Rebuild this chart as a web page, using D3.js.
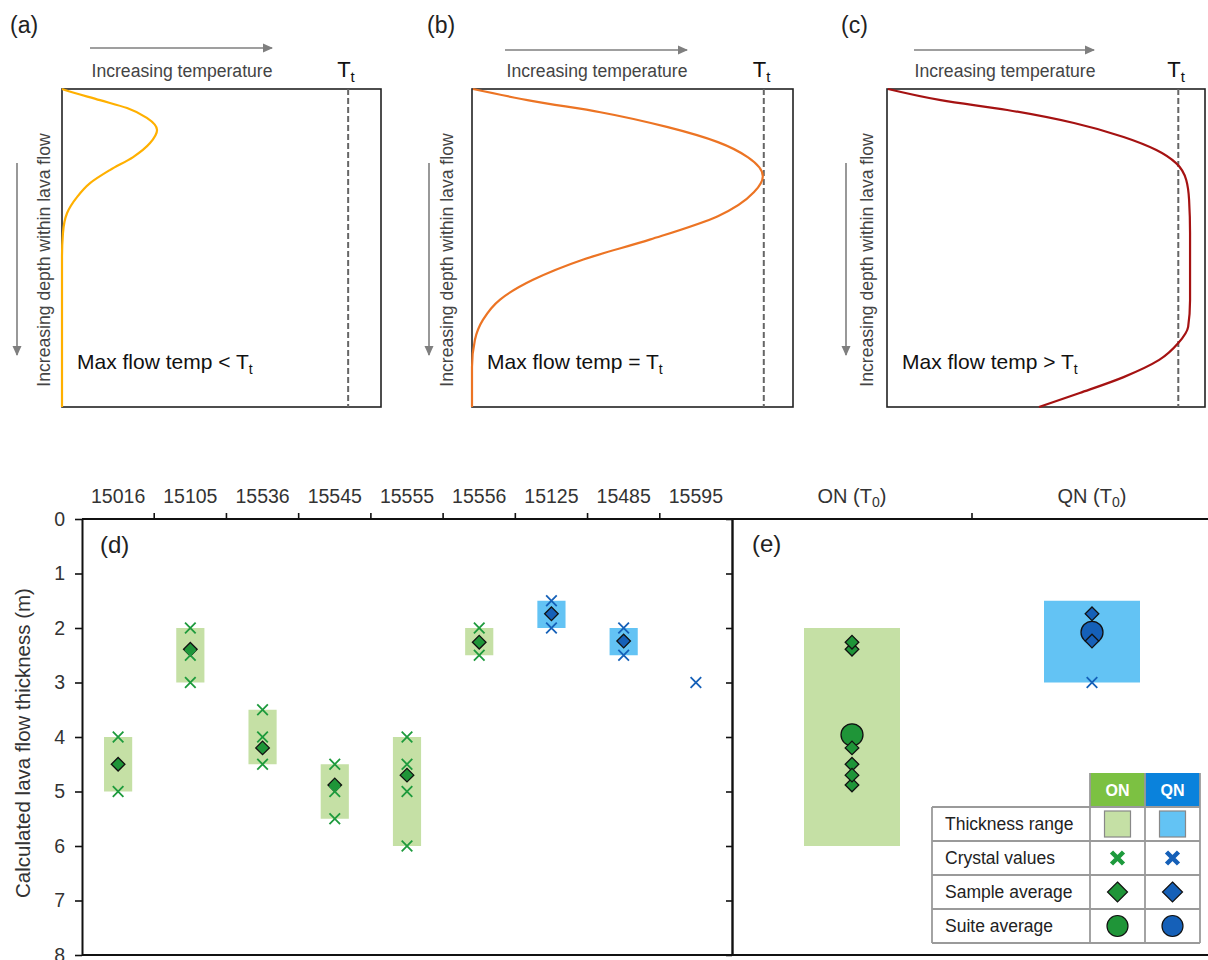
<!DOCTYPE html>
<html><head><meta charset="utf-8">
<script src="https://cdn.jsdelivr.net/npm/d3@7/dist/d3.min.js"></script>
<style>body{margin:0;background:#fff} svg{display:block;font-family:"Liberation Sans",Arial,sans-serif}</style>
</head><body><svg id="chart" width="1208" height="960"></svg>
<script>
// ---------- DATA ----------
// top panels: normalized temperature (0 = box left, 1 = box right) vs normalized depth (0 top, 1 bottom)
const panelLabels = ["(a)", "(b)", "(c)"];
const panelRelations = ["<", "=", ">"];
const curveA = [[0,0],[0.009,0.003],[0.119,0.035],[0.204,0.06],[0.266,0.091],[0.298,0.129],[0.276,0.17],[0.223,0.214],[0.15,0.255],[0.088,0.296],[0.047,0.34],[0.016,0.39],[0.003,0.453],[0,0.53],[0,1]];
const curveB = [[0.003,0],[0.19,0.038],[0.40,0.073],[0.61,0.12],[0.766,0.167],[0.86,0.215],[0.906,0.274],[0.878,0.325],[0.766,0.40],[0.556,0.473],[0.347,0.536],[0.19,0.60],[0.0875,0.662],[0.034,0.726],[0.009,0.789],[0,0.874],[0,1]];
const curveC = [[0.003,0],[0.169,0.035],[0.378,0.066],[0.588,0.107],[0.744,0.151],[0.847,0.192],[0.909,0.233],[0.941,0.286],[0.95,0.349],[0.953,0.453],[0.953,0.664],[0.947,0.748],[0.916,0.799],[0.856,0.852],[0.744,0.906],[0.606,0.956],[0.478,1]];
const tTransition = [0.897, 0.909, 0.916];

// panel d
const samples   = ["15016","15105","15536","15545","15555","15556","15125","15485","15595"];
const sampleSuite = ["ON","ON","ON","ON","ON","ON","QN","QN","QN"];
const rangeLow  = [4, 2, 3.5, 4.5, 4, 2, 1.5, 2, null];
const rangeHigh = [5, 3, 4.5, 5.5, 6, 2.5, 2, 2.5, null];
const crystalValues = [[4,5],[2,2.5,3],[3.5,4,4.5],[4.5,5,5.5],[4,4.5,5,6],[2,2.5],[1.5,2],[2,2.5],[3]];
const sampleAvg = [4.5, 2.39, 4.2, 4.88, 4.7, 2.26, 1.74, 2.24, null];
const yTicks = [0,1,2,3,4,5,6,7,8];

// panel e
const suites = ["ON","QN"];
const suiteRangeLow  = [2, 1.5];
const suiteRangeHigh = [6, 3];
const suiteAvg = [3.96, 2.08];
const suiteOutlierCrystals = [[], [3]];

const legendRows = ["Thickness range","Crystal values","Sample average","Suite average"];

// ---------- STYLE ----------
const col = {
  ON:  {range:"#c5e0a5", cross:"#1d9a3c", fill:"#1f9538", head:"#7cc142"},
  QN:  {range:"#63c3f4", cross:"#1560b8", fill:"#1560b8", head:"#0a82dc"}
};
const curveColors = ["#ffb000", "#ec7424", "#a51212"];
const FONT = "Liberation Sans, Arial, sans-serif";

const svg = d3.select("#chart");

// ---------- TOP PANELS ----------
const boxLeft = [62, 472, 887], boxWidth = [319, 321, 318];
const boxTop = 89, boxBottom = 407;
const curves = [curveA, curveB, curveC];
const defs = svg.append("defs");
defs.append("marker").attr("id","ah").attr("viewBox","0 0 10 10").attr("refX",9).attr("refY",5)
  .attr("markerWidth",11).attr("markerHeight",10).attr("markerUnits","userSpaceOnUse").attr("orient","auto")
  .append("path").attr("d","M0,0.5 L10,5 L0,9.5 Z").attr("fill","#7f7f7f");

const labelX = [10, 427, 841];
const arrowH = [[90,272,48],[505,687,50],[914,1094,50]];
const arrowV = [17, 429, 846];
const vLabelX = [50, 453, 873];

curves.forEach((cv, i) => {
  const L = boxLeft[i];
  const x = d3.scaleLinear([0,1],[L, L + boxWidth[i]]);
  const y = d3.scaleLinear([0,1],[boxTop, boxBottom]);
  const g = svg.append("g");
  g.append("text").attr("x", labelX[i]).attr("y", 33).attr("font-size",23).attr("fill","#222").text(panelLabels[i]);
  // horizontal arrow + label
  const ah = arrowH[i];
  g.append("line").attr("x1",ah[0]).attr("x2",ah[1]).attr("y1",ah[2]).attr("y2",ah[2])
    .attr("stroke","#7f7f7f").attr("stroke-width",1.6).attr("marker-end","url(#ah)");
  g.append("text").attr("x",(ah[0]+ah[1])/2 + 1).attr("y",77).attr("text-anchor","middle")
    .attr("font-size",17.6).attr("fill","#444").text("Increasing temperature");
  // vertical arrow + label
  g.append("line").attr("x1",arrowV[i]).attr("x2",arrowV[i]).attr("y1",163).attr("y2",355)
    .attr("stroke","#7f7f7f").attr("stroke-width",1.6).attr("marker-end","url(#ah)");
  g.append("text").attr("transform",`translate(${vLabelX[i]},260) rotate(-90)`).attr("text-anchor","middle")
    .attr("font-size",17.6).attr("fill","#444").text("Increasing depth within lava flow");
  // box
  g.append("rect").attr("x",x(0)).attr("y",boxTop).attr("width",boxWidth[i]).attr("height",boxBottom-boxTop)
    .attr("fill","none").attr("stroke","#222").attr("stroke-width",1.6);
  // Tt line
  const tx = x(tTransition[i]);
  g.append("line").attr("x1",tx).attr("x2",tx).attr("y1",boxTop).attr("y2",boxBottom)
    .attr("stroke","#666").attr("stroke-width",2).attr("stroke-dasharray","6,3");
  const tl = g.append("text").attr("x",tx - 11).attr("y",77).attr("font-size",22).attr("fill","#111");
  tl.append("tspan").text("T");
  tl.append("tspan").attr("font-size",15).attr("dy",5).text("t");
  // curve
  g.append("path").datum(cv)
    .attr("d", d3.line().x(d => x(d[0])).y(d => y(d[1])).curve(d3.curveMonotoneY))
    .attr("fill","none").attr("stroke",curveColors[i]).attr("stroke-width",2.2);
  // note
  const nt = g.append("text").attr("x", L + 15).attr("y",369).attr("font-size",21).attr("fill","#111");
  nt.append("tspan").text(`Max flow temp ${panelRelations[i]} T`);
  nt.append("tspan").attr("font-size",14).attr("dy",5).text("t");
});

// ---------- BOTTOM PANELS ----------
const yS = d3.scaleLinear([0,8],[519,955]);
const xD = d3.scaleBand(samples,[82,732]);
const xE = d3.scaleBand(suites,[732,1212]);

const bottom = svg.append("g");

// ranges d
const gD = bottom.append("g");
samples.forEach((s,i) => {
  if (rangeLow[i] == null) return;
  const w = xD.bandwidth()*0.39;
  gD.append("rect").attr("x", xD(s)+xD.bandwidth()/2 - w/2).attr("y", yS(rangeLow[i]))
    .attr("width", w).attr("height", yS(rangeHigh[i]) - yS(rangeLow[i]))
    .attr("fill", col[sampleSuite[i]].range);
});
// ranges e
suites.forEach((s,i) => {
  const w = xE.bandwidth()*0.40;
  gD.append("rect").attr("x", xE(s)+xE.bandwidth()/2 - w/2).attr("y", yS(suiteRangeLow[i]))
    .attr("width", w).attr("height", yS(suiteRangeHigh[i]) - yS(suiteRangeLow[i]))
    .attr("fill", col[s].range);
});

function crossPath(cx, cy, h){ return `M${cx-h},${cy-h}L${cx+h},${cy+h}M${cx-h},${cy+h}L${cx+h},${cy-h}`; }
function diamondPath(cx, cy, h){ return `M${cx},${cy-h}L${cx+h},${cy}L${cx},${cy+h}L${cx-h},${cy}Z`; }

// sample averages d
samples.forEach((s,i) => {
  if (sampleAvg[i] == null) return;
  const cx = xD(s)+xD.bandwidth()/2;
  gD.append("path").attr("d", diamondPath(cx, yS(sampleAvg[i]), 6.8))
    .attr("fill", col[sampleSuite[i]].fill).attr("stroke","#111").attr("stroke-width",1.3);
});
// crystal values d
samples.forEach((s,i) => {
  const cx = xD(s)+xD.bandwidth()/2;
  crystalValues[i].forEach(v => {
    gD.append("path").attr("d", crossPath(cx, yS(v), 5.3))
      .attr("fill","none").attr("stroke", col[sampleSuite[i]].cross).attr("stroke-width",1.8);
  });
});

// panel e
suites.forEach((s,i) => {
  const cx = xE(s)+xE.bandwidth()/2;
  suiteOutlierCrystals[i].forEach(v => {
    gD.append("path").attr("d", crossPath(cx, yS(v), 5.3))
      .attr("fill","none").attr("stroke", col[s].cross).attr("stroke-width",1.8);
  });
  gD.append("circle").attr("cx", cx).attr("cy", yS(suiteAvg[i])).attr("r", 11)
    .attr("fill", col[s].fill).attr("stroke","#111").attr("stroke-width",1.3);
  samples.forEach((smp,j) => {
    if (sampleSuite[j] !== s || sampleAvg[j] == null) return;
    gD.append("path").attr("d", diamondPath(cx, yS(sampleAvg[j]), 6.8))
      .attr("fill", col[s].fill).attr("stroke","#111").attr("stroke-width",1.3);
  });
});

// axes
const axL = bottom.append("g").attr("transform","translate(82,0)")
  .call(d3.axisLeft(yS).tickValues(yTicks).tickSize(7).tickSizeOuter(0).tickPadding(10).tickFormat(d3.format("d")));
axL.select(".domain").attr("stroke","#111").attr("stroke-width",2);
axL.selectAll(".tick line").attr("stroke","#111").attr("stroke-width",1.6);
axL.selectAll("text").attr("font-size",19.5).attr("fill","#333").attr("font-family",FONT);

const axR = bottom.append("g").attr("transform","translate(732,0)")
  .call(d3.axisLeft(yS).tickValues(yTicks).tickSize(6).tickSizeOuter(0).tickFormat(""));
axR.select(".domain").attr("stroke","#111").attr("stroke-width",2.4);
axR.selectAll(".tick line").attr("stroke","#111").attr("stroke-width",1.6);

// top category axis for d
const axT = bottom.append("g").attr("transform","translate(0,519)")
  .call(d3.axisTop(xD).tickSize(0).tickPadding(16));
axT.select(".domain").remove();
axT.selectAll("text").attr("font-size",19.5).attr("fill","#333").attr("font-family",FONT);
samples.slice(1).forEach(s => {
  bottom.append("line").attr("x1", xD(s)).attr("x2", xD(s)).attr("y1",519).attr("y2",513)
    .attr("stroke","#111").attr("stroke-width",1.6);
});
// top axis for e
const axTE = bottom.append("g").attr("transform","translate(0,519)")
  .call(d3.axisTop(xE).tickSize(0).tickPadding(16).tickFormat(() => ""));
axTE.select(".domain").remove();
axTE.selectAll(".tick text").each(function(d){
  const t = d3.select(this).attr("font-size",20).attr("fill","#333").attr("font-family",FONT);
  t.append("tspan").text(d + " (T");
  t.append("tspan").attr("font-size",14).attr("dy",4).text("0");
  t.append("tspan").attr("dy",-4).text(")");
});
bottom.append("line").attr("x1", xE("QN")).attr("x2", xE("QN")).attr("y1",519).attr("y2",513)
  .attr("stroke","#111").attr("stroke-width",1.6);

// frame lines
bottom.append("line").attr("x1",82).attr("x2",1208).attr("y1",519).attr("y2",519).attr("stroke","#111").attr("stroke-width",2);
bottom.append("line").attr("x1",82).attr("x2",1208).attr("y1",955).attr("y2",955).attr("stroke","#111").attr("stroke-width",2);

// y title
bottom.append("text").attr("transform","translate(30,743) rotate(-90)").attr("text-anchor","middle")
  .attr("font-size",20.5).attr("fill","#333").text("Calculated lava flow thickness (m)");
bottom.append("text").attr("x",100).attr("y",553).attr("font-size",24).attr("fill","#222").text("(d)");
bottom.append("text").attr("x",752).attr("y",552).attr("font-size",24).attr("fill","#222").text("(e)");

// ---------- LEGEND TABLE ----------
const lg = svg.append("g");
const tL = 932, c1 = 1090, c2 = 1145, c3 = 1200, hTop = 773, rTop = 807, rH = 34;
suites.forEach((s,k) => {
  const x0 = k===0 ? c1 : c2, x1 = k===0 ? c2 : c3;
  lg.append("rect").attr("x",x0).attr("y",hTop).attr("width",x1-x0).attr("height",rTop-hTop).attr("fill",col[s].head);
  lg.append("text").attr("x",(x0+x1)/2).attr("y",hTop+23).attr("text-anchor","middle")
    .attr("font-size",16).attr("font-weight","bold").attr("fill","#fff").text(s);
});
legendRows.forEach((r,i) => {
  const y0 = rTop + i*rH;
  lg.append("text").attr("x",tL+13).attr("y",y0+23).attr("font-size",17.5).attr("fill","#222").text(r);
  suites.forEach((s,k) => {
    const cx = k===0 ? (c1+c2)/2 : (c2+c3)/2, cy = y0 + rH/2;
    if (i===0) lg.append("rect").attr("x",cx-13).attr("y",cy-13).attr("width",26).attr("height",26)
      .attr("fill",col[s].range).attr("stroke","#888").attr("stroke-width",1.2);
    if (i===1) lg.append("path").attr("d",crossPath(cx,cy,6)).attr("stroke",col[s].cross).attr("stroke-width",4.5).attr("fill","none");
    if (i===2) lg.append("path").attr("d",diamondPath(cx,cy,10)).attr("fill",col[s].fill).attr("stroke","#111").attr("stroke-width",1.2);
    if (i===3) lg.append("circle").attr("cx",cx).attr("cy",cy).attr("r",10.5).attr("fill",col[s].fill).attr("stroke","#111").attr("stroke-width",1.2);
  });
});
// grid lines
const gridC = "#9a9a9a";
for (let i=0;i<=4;i++) lg.append("line").attr("x1",tL).attr("x2",c3).attr("y1",rTop+i*rH).attr("y2",rTop+i*rH).attr("stroke",gridC).attr("stroke-width",1.8);
[tL].forEach(x => lg.append("line").attr("x1",x).attr("x2",x).attr("y1",rTop).attr("y2",rTop+4*rH).attr("stroke",gridC).attr("stroke-width",1.8));
[c1,c2,c3].forEach(x => lg.append("line").attr("x1",x).attr("x2",x).attr("y1",hTop).attr("y2",rTop+4*rH).attr("stroke",gridC).attr("stroke-width",1.8));
</script></body></html>
